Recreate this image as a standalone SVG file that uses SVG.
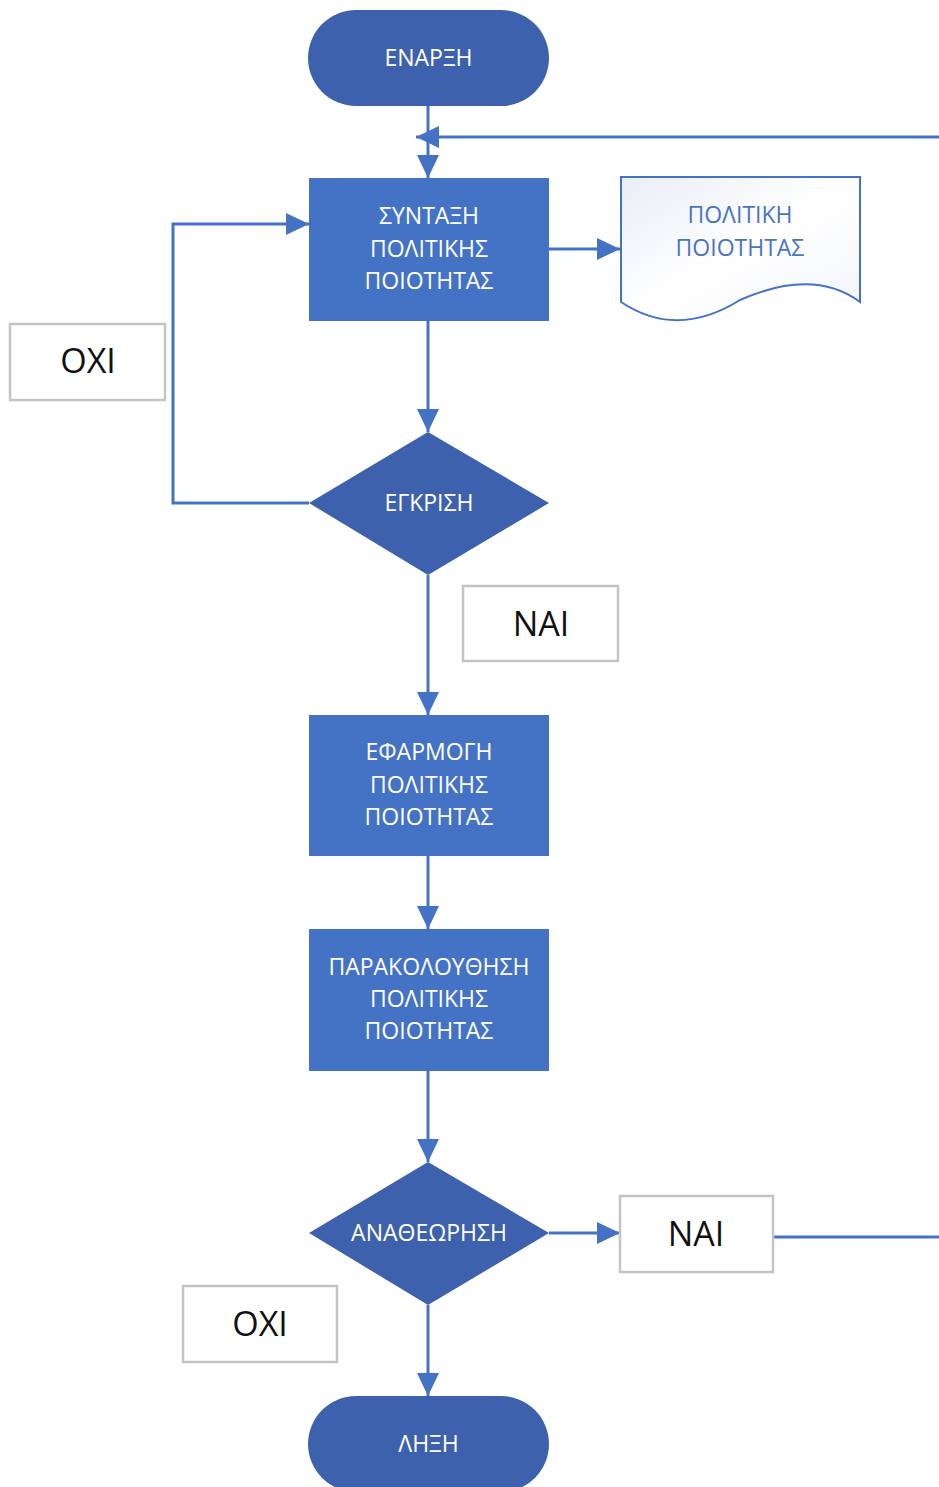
<svg xmlns="http://www.w3.org/2000/svg" width="939" height="1487" viewBox="0 0 939 1487">
<style>
.term{fill:#3E61AE}
.dec{fill:#3E61AE}
.proc{fill:#4472C4}
.lbl{fill:#FFFFFF;stroke:#C4C4C4;stroke-width:2.5}
.t{font-family:"Open Sans","Noto Sans",sans-serif;font-size:23px;fill:#FFFFFF;text-anchor:middle}
.tl{font-family:"Open Sans","Noto Sans",sans-serif;font-size:34px;fill:#111111;text-anchor:middle}
.td{font-family:"Open Sans","Noto Sans",sans-serif;font-size:23px;fill:#4A74C2;text-anchor:middle}
.c{fill:none;stroke:#4472C4;stroke-width:3}
</style>
<defs>
<marker id="ah" viewBox="0 0 23 22" refX="23" refY="11" markerWidth="23" markerHeight="22" markerUnits="userSpaceOnUse" orient="auto">
<path d="M0 0 L23 11 L0 22 Z" fill="#4472C4"/>
</marker>
<linearGradient id="docg" x1="0" y1="0" x2="1" y2="1">
<stop offset="0" stop-color="#E9EDF6"/>
<stop offset="0.5" stop-color="#FFFFFF"/>
<stop offset="1" stop-color="#F3F5FA"/>
</linearGradient>
</defs>
<rect width="939" height="1487" fill="#FFFFFF"/>
<g id="connectors">
<path class="c" d="M428 106 V178" marker-end="url(#ah)"/>
<path class="c" d="M939 137 H416" marker-end="url(#ah)"/>
<path class="c" d="M549 249 H620" marker-end="url(#ah)"/>
<path class="c" d="M428 321 V432" marker-end="url(#ah)"/>
<path class="c" d="M309 503 H173 V224 H309" marker-end="url(#ah)"/>
<path class="c" d="M428 575 V715" marker-end="url(#ah)"/>
<path class="c" d="M428 856 V929" marker-end="url(#ah)"/>
<path class="c" d="M428 1071 V1162" marker-end="url(#ah)"/>
<path class="c" d="M549 1233 H620" marker-end="url(#ah)"/>
<path class="c" d="M773 1237 H939"/>
<path class="c" d="M428 1305 V1396" marker-end="url(#ah)"/>
</g>
<g id="start">
<rect class="term" x="308" y="10" width="241" height="96" rx="48" ry="48"/>
<text class="t" x="428.5" y="66">ΕΝΑΡΞΗ</text>
</g>
<g id="draft">
<rect class="proc" x="309" y="178" width="240" height="143"/>
<text class="t" x="429" y="224">ΣΥΝΤΑΞΗ</text>
<text class="t" x="429" y="257">ΠΟΛΙΤΙΚΗΣ</text>
<text class="t" x="429" y="289">ΠΟΙΟΤΗΤΑΣ</text>
</g>
<g id="document">
<path d="M621 177 H860 V302 C830 280 790 278 740 300 C700 325 660 328 621 302 Z" fill="url(#docg)" stroke="#4472C4" stroke-width="2"/>
<text class="td" x="740" y="223">ΠΟΛΙΤΙΚΗ</text>
<text class="td" x="740" y="256">ΠΟΙΟΤΗΤΑΣ</text>
</g>
<g id="no1">
<rect class="lbl" x="10" y="324" width="155" height="76"/>
<text class="tl" x="88" y="373">ΟΧΙ</text>
</g>
<g id="approval">
<polygon class="dec" points="428,432 549,503 428,575 309,503"/>
<text class="t" x="429" y="511">ΕΓΚΡΙΣΗ</text>
</g>
<g id="yes1">
<rect class="lbl" x="463" y="586" width="155" height="75"/>
<text class="tl" x="541" y="636">ΝΑΙ</text>
</g>
<g id="apply">
<rect class="proc" x="309" y="715" width="240" height="141"/>
<text class="t" x="429" y="760">ΕΦΑΡΜΟΓΗ</text>
<text class="t" x="429" y="793">ΠΟΛΙΤΙΚΗΣ</text>
<text class="t" x="429" y="825">ΠΟΙΟΤΗΤΑΣ</text>
</g>
<g id="monitor">
<rect class="proc" x="309" y="929" width="240" height="142"/>
<text class="t" x="429" y="975">ΠΑΡΑΚΟΛΟΥΘΗΣΗ</text>
<text class="t" x="429" y="1007">ΠΟΛΙΤΙΚΗΣ</text>
<text class="t" x="429" y="1039">ΠΟΙΟΤΗΤΑΣ</text>
</g>
<g id="review">
<polygon class="dec" points="428,1162 549,1233 428,1305 309,1233"/>
<text class="t" x="429" y="1241">ΑΝΑΘΕΩΡΗΣΗ</text>
</g>
<g id="yes2">
<rect class="lbl" x="620" y="1196" width="153" height="76"/>
<text class="tl" x="696" y="1246">ΝΑΙ</text>
</g>
<g id="no2">
<rect class="lbl" x="183" y="1286" width="154" height="76"/>
<text class="tl" x="260" y="1336">ΟΧΙ</text>
</g>
<g id="end">
<rect class="term" x="308" y="1396" width="241" height="96" rx="48" ry="48"/>
<text class="t" x="428.5" y="1452">ΛΗΞΗ</text>
</g>
</svg>
